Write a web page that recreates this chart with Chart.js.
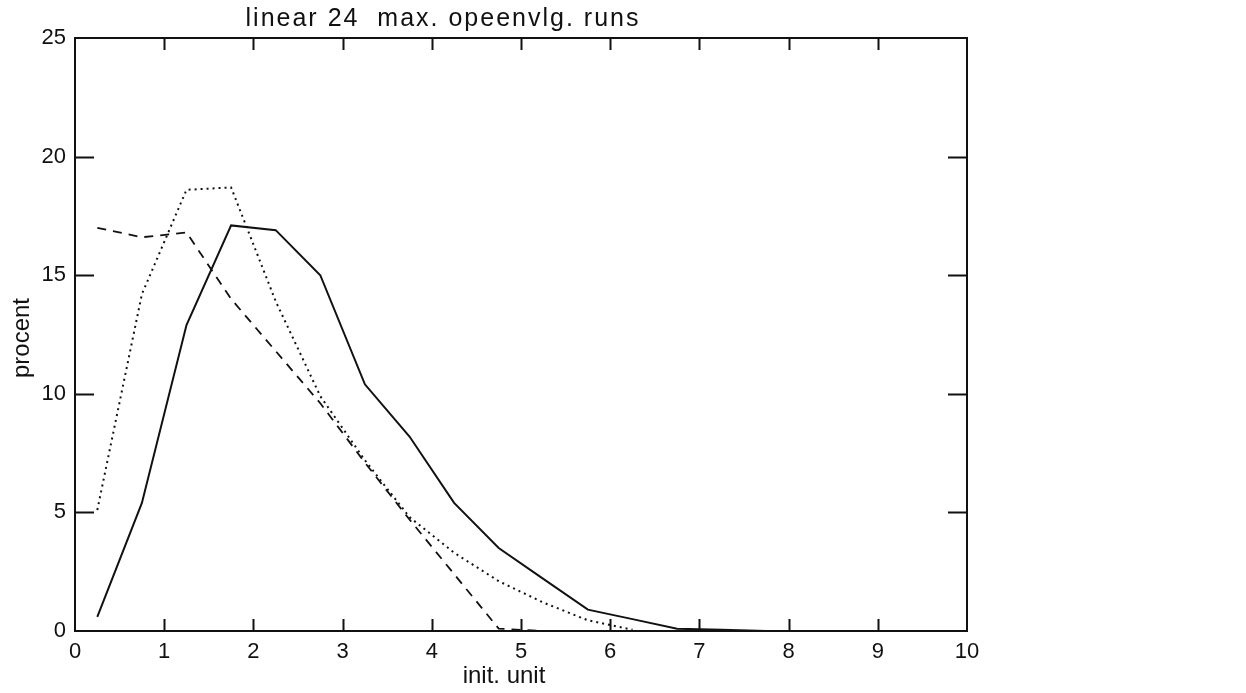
<!DOCTYPE html>
<html>
<head>
<meta charset="utf-8">
<script src="https://cdn.jsdelivr.net/npm/chart.js@4"></script>
<style>
  html, body { margin: 0; padding: 0; background: #fff; }
  #wrap { width: 1246px; height: 693px; }
</style>
</head>
<body>
<div id="wrap"><canvas id="chart" width="1246" height="693"></canvas></div>
<script>
// x positions of the samples (init. unit)
const xVals = [0.25, 0.75, 1.25, 1.75, 2.25, 2.75, 3.25, 3.75, 4.25, 4.75, 5.25, 5.75, 6.25, 6.75, 7.25, 7.75];

// procent per series
const solidVals  = [0.6, 5.4, 12.9, 17.1, 16.9, 15.0, 10.4, 8.2, 5.4, 3.5, 2.2, 0.9, 0.5, 0.1, 0.05, 0.0];
const dashedVals = [17.0, 16.6, 16.8, 14.0, 11.8, 9.6, 7.1, 4.7, 2.4, 0.1, 0.0];
const dottedVals = [5.1, 14.2, 18.6, 18.7, 13.9, 9.9, 7.2, 4.8, 3.3, 2.1, 1.2, 0.45, 0.05];

const xTicks = [0, 1, 2, 3, 4, 5, 6, 7, 8, 9, 10];
const yTicks = [0, 5, 10, 15, 20, 25];

const titleText = 'linear 24  max. opeenvlg. runs';
const xTitle = 'init. unit';
const yTitle = 'procent';

const FONT = '"Liberation Sans", Arial, sans-serif';
const INK = '#111';

function pts(vals) {
  return vals.map((v, i) => ({ x: xVals[i], y: v }));
}

// box, inward ticks and titles like the old plot
const framePlugin = {
  id: 'frame',
  afterDraw(chart) {
    const ctx = chart.ctx;
    const a = chart.chartArea;
    const xs = chart.scales.x, ys = chart.scales.y;
    ctx.save();
    ctx.strokeStyle = INK;
    ctx.lineWidth = 2;
    ctx.strokeRect(a.left, a.top, a.right - a.left, a.bottom - a.top);

    ctx.beginPath();
    xTicks.slice(1, -1).forEach(v => {
      const px = Math.round(xs.getPixelForValue(v)) + 0.5;
      ctx.moveTo(px, a.bottom); ctx.lineTo(px, a.bottom - 12);
      ctx.moveTo(px, a.top); ctx.lineTo(px, a.top + 12);
    });
    yTicks.slice(1, -1).forEach(v => {
      const py = Math.round(ys.getPixelForValue(v)) + 0.5;
      ctx.moveTo(a.left, py); ctx.lineTo(a.left + 19, py);
      ctx.moveTo(a.right, py); ctx.lineTo(a.right - 19, py);
    });
    ctx.stroke();

    ctx.fillStyle = INK;
    ctx.textAlign = 'center';
    ctx.textBaseline = 'middle';
    ctx.font = '25px ' + FONT;
    ctx.letterSpacing = '2px';
    ctx.fillText(titleText, 443, 19);
    ctx.letterSpacing = '0px';
    ctx.font = '24px ' + FONT;
    ctx.fillText(xTitle, 504, 676);
    ctx.translate(22, 338);
    ctx.rotate(-Math.PI / 2);
    ctx.fillText(yTitle, 0, 0);
    ctx.restore();
  }
};

new Chart(document.getElementById('chart'), {
  type: 'line',
  data: {
    datasets: [
      {
        label: 'solid',
        data: pts(solidVals),
        borderColor: INK,
        borderWidth: 2,
        pointRadius: 0
      },
      {
        label: 'dashed',
        data: pts(dashedVals),
        borderColor: INK,
        borderWidth: 1.8,
        borderDash: [9, 7],
        pointRadius: 0
      },
      {
        label: 'dotted',
        data: pts(dottedVals),
        borderColor: INK,
        borderWidth: 2,
        borderDash: [2, 4],
        pointRadius: 0
      }
    ]
  },
  options: {
    responsive: false,
    animation: false,
    layout: { padding: { top: 38, right: 279, left: 0, bottom: 0 } },
    plugins: {
      legend: { display: false },
      tooltip: { enabled: false }
    },
    scales: {
      x: {
        type: 'linear',
        min: 0,
        max: 10,
        afterFit(s) { s.height = 62; },
        afterBuildTicks(s) { s.ticks = xTicks.map(v => ({ value: v })); },
        grid: { display: false },
        border: { display: false },
        ticks: { color: INK, padding: 0, font: { family: FONT, size: 22 } }
      },
      y: {
        min: 0,
        max: 25,
        afterFit(s) { s.width = 75; },
        afterBuildTicks(s) { s.ticks = yTicks.map(v => ({ value: v })); },
        grid: { display: false },
        border: { display: false },
        ticks: { color: INK, padding: 1, font: { family: FONT, size: 22 } }
      }
    }
  },
  plugins: [framePlugin]
});
</script>
</body>
</html>
